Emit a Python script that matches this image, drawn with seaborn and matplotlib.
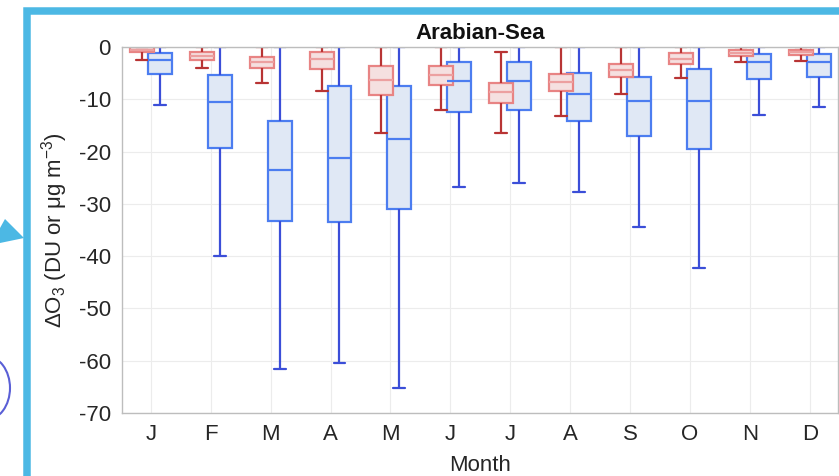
import numpy as np
import pandas as pd
import matplotlib.pyplot as plt
import seaborn as sns
from matplotlib.patches import Rectangle, Polygon, Ellipse
from matplotlib.transforms import IdentityTransform

months = ['J', 'F', 'M', 'A', 'M', 'J', 'J', 'A', 'S', 'O', 'N', 'D']

# red series: whisker low, q1, median, q3, whisker high
red_lo = [-2.5, -4.0, -6.8, -8.4, -16.5, -12.0, -16.5, -13.2, -8.9, -5.9, -2.9, -2.6]
red_q1 = [-1.0, -2.5, -4.0, -4.3, -9.2, -7.3, -10.8, -8.4, -5.7, -3.2, -1.7, -1.5]
red_med = [-0.5, -1.8, -2.9, -2.2, -6.3, -5.4, -8.7, -6.7, -4.4, -2.3, -1.1, -1.0]
red_q3 = [0.0, -1.0, -2.0, -1.0, -3.6, -3.6, -6.8, -5.2, -3.2, -1.2, -0.6, -0.6]
red_hi = [0.0, 0.0, 0.0, 0.0, 0.0, 0.0, -1.0, 0.0, 0.0, 0.0, 0.0, 0.0]

# blue series
blue_lo = [-11.0, -39.9, -61.5, -60.4, -65.3, -26.7, -26.1, -27.7, -34.4, -42.2, -13.1, -11.5]
blue_q1 = [-5.2, -19.3, -33.2, -33.4, -31.0, -12.4, -12.1, -14.1, -17.1, -19.6, -6.2, -5.7]
blue_med = [-2.5, -10.6, -23.6, -21.3, -17.6, -6.5, -6.5, -9.0, -10.3, -10.3, -2.9, -2.9]
blue_q3 = [-1.1, -5.4, -14.2, -7.4, -7.5, -2.8, -2.8, -4.9, -5.7, -4.3, -1.3, -1.3]
blue_hi = [0.0] * 12


def five_number_frame(lo, q1, med, q3, hi, shift):
    rows = []
    for i in range(len(months)):
        for v in (lo[i], q1[i], med[i], q3[i], hi[i]):
            rows.append({'pos': i + 1 + shift, 'value': v})
    return pd.DataFrame(rows)


red_df = five_number_frame(red_lo, red_q1, red_med, red_q3, red_hi, -0.15)
blue_df = five_number_frame(blue_lo, blue_q1, blue_med, blue_q3, blue_hi, 0.15)

sns.set_theme(style="whitegrid")
plt.rcParams['font.family'] = ['Liberation Sans', 'DejaVu Sans']
plt.rcParams['axes.unicode_minus'] = False
plt.rcParams['mathtext.fontset'] = 'custom'
plt.rcParams['mathtext.rm'] = 'Liberation Sans'
plt.rcParams['mathtext.default'] = 'regular'

fig = plt.figure(figsize=(8.39, 4.76), dpi=100)
ax = fig.add_axes([122 / 839, 1 - 413 / 476, 716 / 839, 366 / 476])

sns.boxplot(data=blue_df, x='pos', y='value', native_scale=True, width=0.4,
            whis=(0, 100), color='#dce7f8', linecolor='#4c7df0', linewidth=1.6,
            showfliers=False, ax=ax,
            whiskerprops={'color': '#3b4ed8'}, capprops={'color': '#3b4ed8'},
            medianprops={'color': '#4c7df0'})
sns.boxplot(data=red_df, x='pos', y='value', native_scale=True, width=0.4,
            whis=(0, 100), color='#f8dcdc', linecolor='#e88484', linewidth=1.6,
            showfliers=False, ax=ax,
            whiskerprops={'color': '#b83434'}, capprops={'color': '#b83434'},
            medianprops={'color': '#eca0a0'})

ax.set_xlim(0.52, 12.47)
ax.set_ylim(-70, 0)
ax.set_xticks(range(1, 13))
ax.set_xticklabels(months)
ax.set_yticks(range(-70, 1, 10))
ax.tick_params(labelsize=16, labelcolor='#262626', color='#bdbdbd',
               direction='in', length=4, width=0.8, pad=8)
ax.grid(True, color='#ececec', linewidth=0.8)
for side in ['left', 'bottom', 'top', 'right']:
    ax.spines[side].set_color('#bdbdbd')
    ax.spines[side].set_linewidth(1.0)
ax.set_xlabel('Month', fontsize=16, color='#262626', labelpad=7)
ax.set_ylabel('ΔO$_3$ (DU or μg m$^{-3}$)', fontsize=16, color='#262626', labelpad=6)
ax.set_title('Arabian-Sea', fontsize=16, fontweight='bold', color='#111111', pad=6)

# screenshot decorations: cyan frame, arrow head, arc
fig.add_artist(Rectangle((27 / 839, -0.1), 1.2, 1 - 10.5 / 476 + 0.1, fill=False,
                         edgecolor='#4cb8e4', linewidth=5.4, transform=fig.transFigure))
tri = [(0, 228), (5, 219), (24, 238), (0, 243)]
fig.add_artist(Polygon([(x / 839, 1 - y / 476) for x, y in tri], closed=True,
                       facecolor='#4cb8e4', edgecolor='none', transform=fig.transFigure))
fig.add_artist(Ellipse((-14, 476 - 388), 48, 64, fill=False, edgecolor='#5a5fd6',
                       linewidth=1.5, transform=IdentityTransform()))

fig.savefig('out.png', dpi=100)
